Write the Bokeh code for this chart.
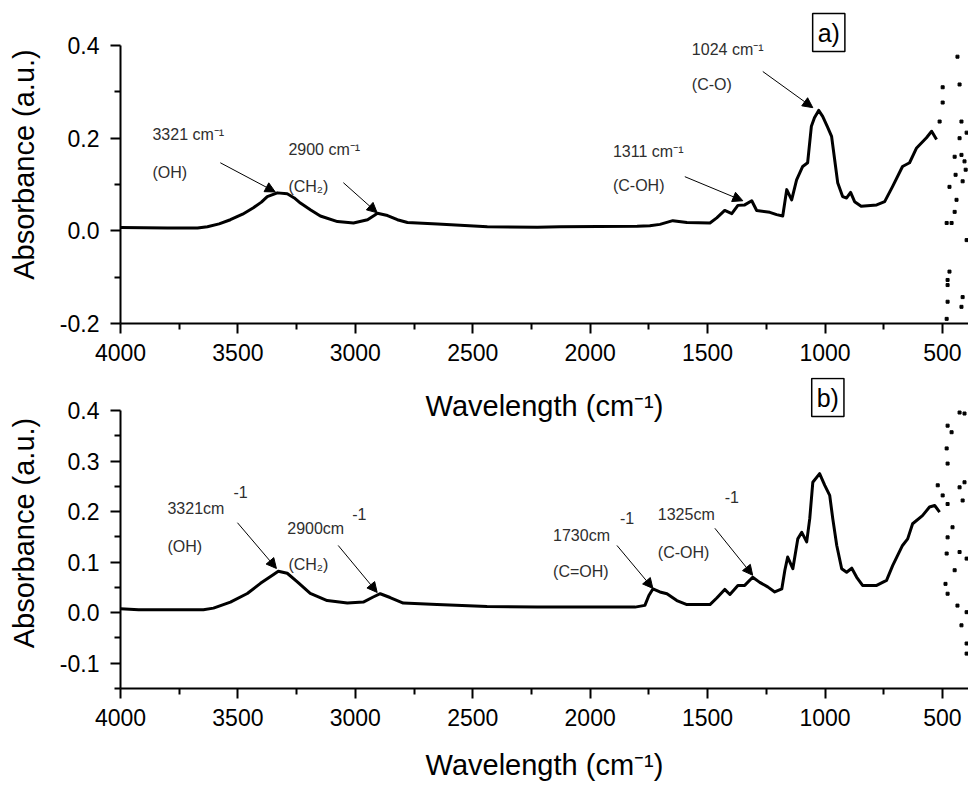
from bokeh.plotting import figure
from bokeh.models import Range1d, FixedTicker, PrintfTickFormatter, Label, Arrow, NormalHead
from bokeh.layouts import column
from bokeh.embed import file_html
from bokeh.resources import INLINE

# ---------------- data: panel a) ----------------
top_w = [4000, 3800, 3672, 3630, 3580, 3532, 3480, 3434, 3400, 3375, 3332, 3290, 3260, 3234,
         3190, 3149, 3076, 3008, 2948, 2920, 2906, 2863, 2821, 2778, 2650, 2438, 2225, 2128,
         1800, 1746, 1703, 1648, 1588, 1490, 1461, 1427, 1397, 1371, 1342, 1312, 1291, 1235,
         1206, 1180, 1163, 1142, 1121, 1095, 1074, 1058, 1045, 1027, 1010, 990, 972, 959, 946,
         925, 908, 891, 874, 846, 780, 746, 712, 670, 640, 610, 568, 546, 525]
top_a = [0.007, 0.006, 0.006, 0.009, 0.015, 0.024, 0.036, 0.050, 0.062, 0.074, 0.082, 0.080,
         0.071, 0.060, 0.045, 0.032, 0.020, 0.017, 0.024, 0.033, 0.038, 0.033, 0.024, 0.018,
         0.015, 0.009, 0.008, 0.009, 0.010, 0.011, 0.014, 0.022, 0.018, 0.017, 0.028, 0.044,
         0.037, 0.055, 0.056, 0.065, 0.044, 0.040, 0.035, 0.032, 0.089, 0.067, 0.110, 0.139,
         0.147, 0.226, 0.244, 0.260, 0.247, 0.225, 0.204, 0.154, 0.104, 0.074, 0.071, 0.083,
         0.063, 0.053, 0.056, 0.063, 0.096, 0.139, 0.147, 0.179, 0.201, 0.215, 0.197]
top_noise_w = [512, 499, 499, 482, 482, 478, 478, 478, 470, 470, 461, 448, 448, 444, 440, 436,
               427, 427, 419, 419, 419, 414, 414, 406, 401, 397, 397]
top_noise_a = [0.236, 0.310, 0.277, 0.017, -0.190, -0.106, -0.117, -0.153, -0.088, 0.095,
               0.017, 0.160, 0.041, 0.121, 0.067, 0.376, 0.316, 0.200, 0.236, 0.164, -0.164,
               -0.143, 0.107, 0.150, 0.132, -0.020, 0.212]

# ---------------- data: panel b) ----------------
bot_w = [4000, 3923, 3647, 3604, 3532, 3460, 3404, 3353, 3328, 3290, 3247, 3192, 3120, 3034,
         2966, 2924, 2894, 2852, 2796, 2652, 2439, 2226, 1809, 1767, 1750, 1733, 1703, 1673,
         1631, 1588, 1490, 1461, 1427, 1405, 1371, 1342, 1308, 1278, 1244, 1214, 1184, 1171,
         1159, 1137, 1116, 1099, 1078, 1065, 1052, 1023, 1001, 980, 967, 950, 929, 908, 886,
         865, 840, 780, 738, 712, 670, 648, 627, 585, 555, 533, 512]
bot_a = [0.008, 0.006, 0.006, 0.009, 0.021, 0.038, 0.058, 0.074, 0.082, 0.078, 0.061, 0.038,
         0.024, 0.019, 0.021, 0.031, 0.0375, 0.030, 0.019, 0.016, 0.012, 0.011, 0.011, 0.0145,
         0.034, 0.047, 0.041, 0.0375, 0.024, 0.016, 0.016, 0.029, 0.046, 0.036, 0.054, 0.054,
         0.070, 0.060, 0.051, 0.041, 0.047, 0.084, 0.110, 0.087, 0.146, 0.159, 0.140, 0.186,
         0.258, 0.275, 0.252, 0.232, 0.186, 0.133, 0.087, 0.080, 0.088, 0.070, 0.054, 0.054,
         0.064, 0.093, 0.133, 0.146, 0.176, 0.192, 0.209, 0.212, 0.199]
bot_noise_w = [478, 461, 427, 406, 482, 478, 520, 406, 427, 478, 499, 414, 457, 478, 482, 427,
               397, 448, 487, 478, 436, 397, 419, 397, 397]
bot_noise_a = [0.370, 0.357, 0.396, 0.394, 0.325, 0.295, 0.252, 0.258, 0.248, 0.215, 0.232,
               0.222, 0.169, 0.149, 0.117, 0.120, 0.107, 0.084, 0.057, 0.0375, 0.014, 0.001,
               -0.025, -0.061, -0.081]

# ---------------- ticks ----------------
x_major = [4000, 3500, 3000, 2500, 2000, 1500, 1000, 500]
x_minor = [3750, 3250, 2750, 2250, 1750, 1250, 750]
top_y_major = [-0.2, 0.0, 0.2, 0.4]
top_y_minor = [-0.1, 0.1, 0.3]
bot_y_major = [-0.1, 0.0, 0.1, 0.2, 0.3, 0.4]
bot_y_minor = [-0.15, -0.05, 0.05, 0.15, 0.25, 0.35]

x_title = "Wavelength (cm\u207b\u00b9)"
y_title = "Absorbance (a.u.)"

# ---------------- annotations (text, x, y) ----------------
top_texts = [("3321 cm\u207b\u00b9", 3864, 0.2076), ("(OH)", 3864, 0.125),
             ("2900 cm\u207b\u00b9", 3285, 0.175), ("(CH\u2082)", 3285, 0.095),
             ("1311 cm\u207b\u00b9", 1903, 0.171), ("(C-OH)", 1903, 0.097),
             ("1024 cm\u207b\u00b9", 1567, 0.391), ("(C-O)", 1567, 0.316)]
top_arrows = [(3575, 0.147, 3341, 0.084), (3051, 0.104, 2907, 0.039),
              (1597, 0.117, 1350, 0.065), (1265, 0.344, 1052, 0.266)]
top_tag = ("a)", 984, 0.428)

bot_texts = [("3321cm", 3800, 0.206), ("-1", 3519, 0.238), ("(OH)", 3800, 0.131),
             ("2900cm", 3290, 0.167), ("-1", 3013, 0.196), ("(CH\u2082)", 3285, 0.095),
             ("1730cm", 2158, 0.153), ("-1", 1873, 0.188), ("(C=OH)", 2158, 0.082),
             ("1325cm", 1712, 0.194), ("-1", 1427, 0.228), ("(C-OH)", 1712, 0.119)]
bot_arrows = [(3502, 0.178, 3336, 0.0875), (3073, 0.133, 2907, 0.040),
              (1886, 0.133, 1733, 0.048), (1469, 0.167, 1308, 0.074)]
bot_tag = ("b)", 988, 0.4255)

FONT = "Liberation Sans"
ANN_COLOR = "#2e2e2e"


def make_panel(w, a, nw, na, ylo, yhi, yview_top, ymaj, ymin, height, top, bottom, xlab_std,
               texts, arrows, tag):
    # the frame reaches a little above the axis top so that labels above it are not clipped
    p = figure(width=968, height=height, x_range=Range1d(4000, 389),
               y_range=Range1d(ylo, yview_top),
               output_backend="svg", toolbar_location=None,
               min_border_left=120, min_border_right=0, min_border_top=top,
               min_border_bottom=bottom)
    p.outline_line_color = None
    p.background_fill_color = None
    p.border_fill_color = None
    p.grid.visible = False

    xa = p.xaxis[0]
    ya = p.yaxis[0]
    ya.bounds = (ylo, yhi)
    xa.ticker = FixedTicker(ticks=x_major, minor_ticks=x_minor)
    ya.ticker = FixedTicker(ticks=ymaj, minor_ticks=ymin)
    xa.formatter = PrintfTickFormatter(format="%d")
    ya.formatter = PrintfTickFormatter(format="%.1f")
    for ax in (xa, ya):
        ax.axis_line_width = 2
        ax.axis_line_color = "black"
        ax.major_tick_line_width = 2
        ax.minor_tick_line_width = 2
        ax.major_tick_line_color = "black"
        ax.minor_tick_line_color = "black"
        ax.major_tick_in = 0
        ax.major_tick_out = 10
        ax.minor_tick_in = 0
        ax.minor_tick_out = 6
        ax.major_label_text_font = FONT
        ax.major_label_text_font_size = "23px"
        ax.major_label_text_color = "black"
        ax.axis_label_text_font = FONT
        ax.axis_label_text_font_size = "29px"
        ax.axis_label_text_font_style = "normal"
        ax.axis_label_text_color = "black"
    xa.axis_label = x_title
    ya.axis_label = y_title
    xa.major_label_standoff = 10
    xa.axis_label_standoff = xlab_std
    ya.major_label_standoff = 11
    ya.axis_label_standoff = 17

    p.line(w, a, line_width=3, color="black", line_join="round")
    p.scatter(nw, na, marker="square", size=3, color="black")

    for t, x, y in texts:
        p.add_layout(Label(x=x, y=y, text=t, text_font=FONT, text_font_size="16px",
                           text_color=ANN_COLOR, text_align="left",
                           text_baseline="alphabetic"))
    for x0, y0, x1, y1 in arrows:
        p.add_layout(Arrow(x_start=x0, y_start=y0, x_end=x1, y_end=y1, line_width=1,
                           line_color="black",
                           end=NormalHead(size=10, fill_color="black", line_color="black")))
    t, x, y = tag
    p.add_layout(Label(x=x, y=y, text=t, text_font=FONT, text_font_size="25px",
                       text_color="black", text_align="center", text_baseline="middle",
                       border_line_color="black", border_line_width=1.5,
                       background_fill_color="white", padding=5))
    return p


p1 = make_panel(top_w, top_a, top_noise_w, top_noise_a, -0.2, 0.4, 0.4 + 40 / 462.5,
                top_y_major, top_y_minor, 430, 5, 107, 26, top_texts, top_arrows, top_tag)
p2 = make_panel(bot_w, bot_a, bot_noise_w, bot_noise_a, -0.15, 0.4, 0.4 + 33 / 505.5,
                bot_y_major, bot_y_minor, 413, 2, 100, 20, bot_texts, bot_arrows, bot_tag)
p2.margin = (-55, 0, 0, 0)

layout = column(p1, p2)
open("out.html", "w").write(file_html(layout, INLINE))
